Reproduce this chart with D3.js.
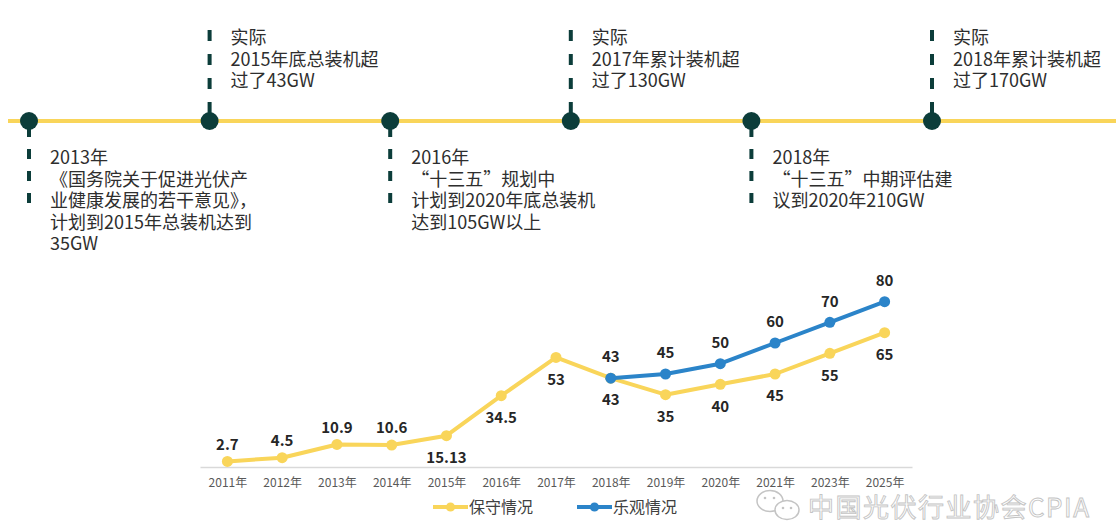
<!DOCTYPE html>
<html>
<head>
<meta charset="utf-8">
<script src="https://cdn.jsdelivr.net/npm/d3@7"></script>
<style>
  body { margin: 0; background: #fff; }
  svg { display: block; font-family: "Noto Sans CJK SC", "Noto Sans", sans-serif; }
</style>
</head>
<body>
<div id="chart"></div>
<script>
// timeline milestones
const eventSides = ['down', 'up', 'down', 'up', 'down', 'up'];
const eventTexts = [
    ['2013年', '《国务院关于促进光伏产', '业健康发展的若干意见》，', '计划到2015年总装机达到', '35GW'],
    ['实际', '2015年底总装机超', '过了43GW'],
    ['2016年', '“十三五”规划中', '计划到2020年底总装机', '达到105GW以上'],
    ['实际', '2017年累计装机超', '过了130GW'],
    ['2018年', '“十三五”中期评估建', '议到2020年210GW'],
    ['实际', '2018年累计装机超', '过了170GW'],
];

// line chart
const years = ['2011年', '2012年', '2013年', '2014年', '2015年', '2016年', '2017年',
    '2018年', '2019年', '2020年', '2021年', '2023年', '2025年'];
const conservative = [2.7, 4.5, 10.9, 10.6, 15.13, 34.5, 53, 43, 35, 40, 45, 55, 65];
const optimistic = [null, null, null, null, null, null, null, 43, 45, 50, 60, 70, 80];
const seriesNames = ['保守情况', '乐观情况'];

(function(){
    const W = 1116, H = 523;
    const yellow = '#f9d55a';
    const blue = '#2b84c9';
    const teal = '#0c3d3a';

    const svg = d3.select('#chart').append('svg')
        .attr('width', W)
        .attr('height', H);

    // ---- timeline ----
    const lineY = 121;
    const tx = d3.scalePoint()
        .domain(d3.range(eventTexts.length))
        .range([29, 932]);

    svg.append('line')
        .attr('x1', 8).attr('x2', W)
        .attr('y1', lineY).attr('y2', lineY)
        .attr('stroke', yellow)
        .attr('stroke-width', 4);

    const ev = svg.selectAll('.event')
        .data(eventTexts)
        .enter()
        .append('g')
            .attr('class', 'event')
            .attr('transform', (d, i) => `translate(${tx(i)}, 0)`);

    ev.append('line')
        .attr('x1', 0).attr('x2', 0)
        .attr('y1', (d, i) => eventSides[i] === 'up' ? 30 : 127)
        .attr('y2', (d, i) => eventSides[i] === 'up' ? lineY : 210)
        .attr('stroke', teal)
        .attr('stroke-width', 4)
        .attr('stroke-dasharray', (d, i) => eventSides[i] === 'up' ? '11,13' : '10,12');

    ev.append('circle')
        .attr('cy', lineY)
        .attr('r', 9)
        .attr('fill', teal);

    ev.each(function(lines, i) {
        const y0 = eventSides[i] === 'up' ? 44 : 164;
        d3.select(this).selectAll('text')
            .data(lines)
            .enter()
            .append('text')
                .attr('x', 21)
                .attr('y', (d, j) => y0 + j * 21.5)
                .style('font-size', '18px')
                .style('fill', '#2e2e2e')
                .text(d => d);
    });

    // ---- line chart ----
    const x = d3.scalePoint()
        .domain(years)
        .range([200, 912])
        .padding(0.5);

    const y = d3.scaleLinear()
        .domain([0, 90])
        .range([467, 281]);

    const xAxis = d3.axisBottom(x)
        .tickSize(0)
        .tickSizeOuter(0)
        .tickPadding(11);

    const ax = svg.append('g')
        .attr('transform', `translate(0, ${y(0)})`)
        .call(xAxis);
    ax.select('.domain').attr('stroke', '#d9d9d9').attr('stroke-width', 1.5);
    ax.selectAll('text')
        .style('font-size', '12px')
        .style('font-family', '"Noto Sans CJK SC", sans-serif')
        .style('fill', '#595959');

    const line = d3.line()
        .defined(d => d.v != null)
        .x(d => x(d.year))
        .y(d => y(d.v));

    const cons = years.map((year, i) => ({ year, v: conservative[i] }));
    const opt = years.map((year, i) => ({ year, v: optimistic[i] })).filter(d => d.v != null);

    const series = [
        { data: cons, color: yellow },
        { data: opt, color: blue },
    ];

    series.forEach(s => {
        svg.append('path')
            .datum(s.data)
            .attr('d', line)
            .attr('fill', 'none')
            .attr('stroke', s.color)
            .attr('stroke-width', 4)
            .attr('stroke-linejoin', 'round');

        svg.selectAll(null)
            .data(s.data)
            .enter()
            .append('circle')
                .attr('cx', d => x(d.year))
                .attr('cy', d => y(d.v))
                .attr('r', 5.5)
                .attr('fill', s.color);
    });

    // value labels
    const labelStyle = sel => sel
        .style('text-anchor', 'middle')
        .style('font-size', '15px')
        .style('font-weight', 'bold')
        .style('fill', '#262626')
        .attr('dy', '0.35em');

    svg.selectAll('.lbl-c')
        .data(cons)
        .enter()
        .append('text')
            .attr('class', 'lbl-c')
            .attr('x', d => x(d.year))
            .attr('y', (d, i) => y(d.v) + (i < 4 ? -17 : 22))
            .call(labelStyle)
            .text(d => d.v);

    svg.selectAll('.lbl-o')
        .data(opt)
        .enter()
        .append('text')
            .attr('class', 'lbl-o')
            .attr('x', d => x(d.year))
            .attr('y', d => y(d.v) - 21)
            .call(labelStyle)
            .text(d => d.v);

    // legend
    const legend = svg.selectAll('.legend')
        .data(seriesNames)
        .enter()
        .append('g')
            .attr('class', 'legend')
            .attr('transform', (d, i) => `translate(${433 + i * 144}, 507)`);

    legend.append('line')
        .attr('x1', 0).attr('x2', 35)
        .attr('stroke', (d, i) => series[i].color)
        .attr('stroke-width', 4);
    legend.append('circle')
        .attr('cx', 17.5)
        .attr('r', 4.5)
        .attr('fill', (d, i) => series[i].color);
    legend.append('text')
        .attr('x', 36)
        .attr('dy', '0.35em')
        .style('font-size', '16px')
        .style('fill', '#404040')
        .text(d => d);

    // watermark
    const wm = svg.append('g');
    wm.append('ellipse')
        .attr('cx', 770).attr('cy', 501).attr('rx', 13).attr('ry', 10.5)
        .attr('fill', '#fff').attr('stroke', '#c4c4c4').attr('stroke-width', 1.5);
    wm.append('ellipse')
        .attr('cx', 787).attr('cy', 510).attr('rx', 12).attr('ry', 9.5)
        .attr('fill', '#fff').attr('stroke', '#c4c4c4').attr('stroke-width', 1.5);
    [[765, 498], [774, 498], [783, 508], [791, 508]].forEach(p => {
        wm.append('circle').attr('cx', p[0]).attr('cy', p[1]).attr('r', 1.3).attr('fill', '#c4c4c4');
    });
    wm.append('text')
        .attr('x', 808)
        .attr('y', 508)
        .attr('dy', '0.35em')
        .style('font-size', '26px')
        .style('letter-spacing', '1.5px')
        .style('fill', '#fff')
        .style('stroke', '#c4c4c4')
        .style('stroke-width', 0.9)
        .text('中国光伏行业协会CPIA');
}());
</script>
</body>
</html>
